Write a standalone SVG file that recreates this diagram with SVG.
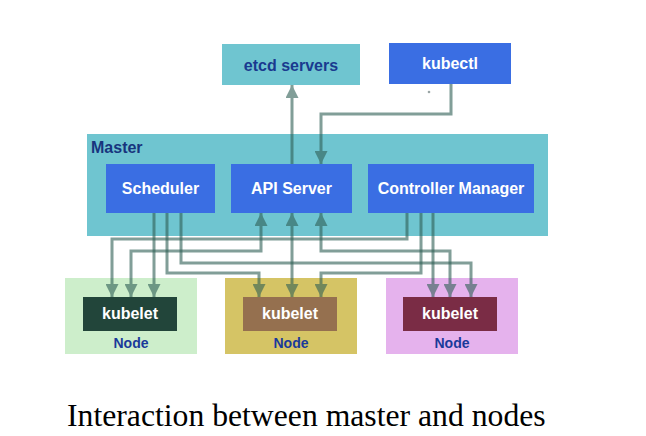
<svg xmlns="http://www.w3.org/2000/svg" width="646" height="436" viewBox="0 0 646 436">
<style>
.lbl{font-family:"Liberation Sans",Arial,sans-serif;font-weight:bold;font-size:16px;text-anchor:middle}
.w{fill:#ffffff}
.navy{fill:#1a3a8f}
.blue{fill:#3a6ee3}
.cyan{fill:#6fc5d0}
.conn path{fill:none;stroke:#2f5f55;stroke-width:3;opacity:0.6}
.cap{font-family:"Liberation Serif","Times New Roman",serif;font-size:31.7px;fill:#000000}
</style>
<defs>
<marker id="ah" markerUnits="userSpaceOnUse" markerWidth="13" markerHeight="13" refX="13" refY="6.5" orient="auto-start-reverse" viewBox="0 0 13 13">
<path d="M0,0 L13,6.5 L0,13 z" fill="#2f5f55"/>
</marker>
</defs>
<rect width="646" height="436" fill="#ffffff"/>
<g id="master">
<rect x="87" y="134" width="461" height="102" class="cyan"/>
<text x="91" y="153" class="lbl" style="text-anchor:start;fill:#17357e">Master</text>
</g>
<g id="etcd">
<rect x="222" y="44" width="138" height="41" class="cyan"/>
<text x="291" y="71" class="lbl navy">etcd servers</text>
</g>
<g id="kubectl">
<rect x="389" y="43" width="122" height="41" class="blue"/>
<text x="450" y="69" class="lbl w">kubectl</text>
<circle cx="429" cy="92" r="1.3" fill="#9aa5a5"/>
</g>
<g id="scheduler">
<rect x="106" y="164" width="109" height="49" class="blue"/>
<text x="160.5" y="194" class="lbl w">Scheduler</text>
</g>
<g id="apiserver">
<rect x="231" y="164" width="121" height="49" class="blue"/>
<text x="291.5" y="194" class="lbl w">API Server</text>
</g>
<g id="controller">
<rect x="368" y="164" width="166" height="49" class="blue"/>
<text x="451" y="194" class="lbl w">Controller Manager</text>
</g>
<g id="node1">
<rect x="65" y="278" width="132" height="76" fill="#cdeecb"/>
<rect x="83" y="297" width="94" height="34" fill="#22453a"/>
<text x="130" y="319" class="lbl w">kubelet</text>
<text x="131" y="348" class="lbl" style="font-size:14px;fill:#1a3a9a">Node</text>
</g>
<g id="node2">
<rect x="225" y="278" width="132" height="76" fill="#d5c465"/>
<rect x="243" y="297" width="94" height="34" fill="#95704f"/>
<text x="290" y="319" class="lbl w">kubelet</text>
<text x="291" y="348" class="lbl" style="font-size:14px;fill:#1a3a9a">Node</text>
</g>
<g id="node3">
<rect x="386" y="278" width="132" height="76" fill="#e5b2ed"/>
<rect x="403" y="297" width="94" height="34" fill="#7a2c45"/>
<text x="450" y="319" class="lbl w">kubelet</text>
<text x="452" y="348" class="lbl" style="font-size:14px;fill:#1a3a9a">Node</text>
</g>
<g id="connectors" class="conn">
<path d="M292,164 V85" marker-end="url(#ah)"/>
<path d="M451,84 V114 H321 V164" marker-end="url(#ah)"/>
<path d="M154,213 V297" marker-end="url(#ah)"/>
<path d="M167,213 V273 H259 V297" marker-end="url(#ah)"/>
<path d="M181,213 V263 H471 V297" marker-end="url(#ah)"/>
<path d="M261,213 V251 H131 V297" marker-start="url(#ah)" marker-end="url(#ah)"/>
<path d="M292,213 V297" marker-start="url(#ah)" marker-end="url(#ah)"/>
<path d="M321,213 V251 H450 V297" marker-start="url(#ah)" marker-end="url(#ah)"/>
<path d="M407,213 V239 H112 V297" marker-end="url(#ah)"/>
<path d="M421,213 V273 H321 V297" marker-end="url(#ah)"/>
<path d="M433,213 V297" marker-end="url(#ah)"/>
</g>
<text x="67" y="426" class="cap">Interaction between master and nodes</text>
</svg>
